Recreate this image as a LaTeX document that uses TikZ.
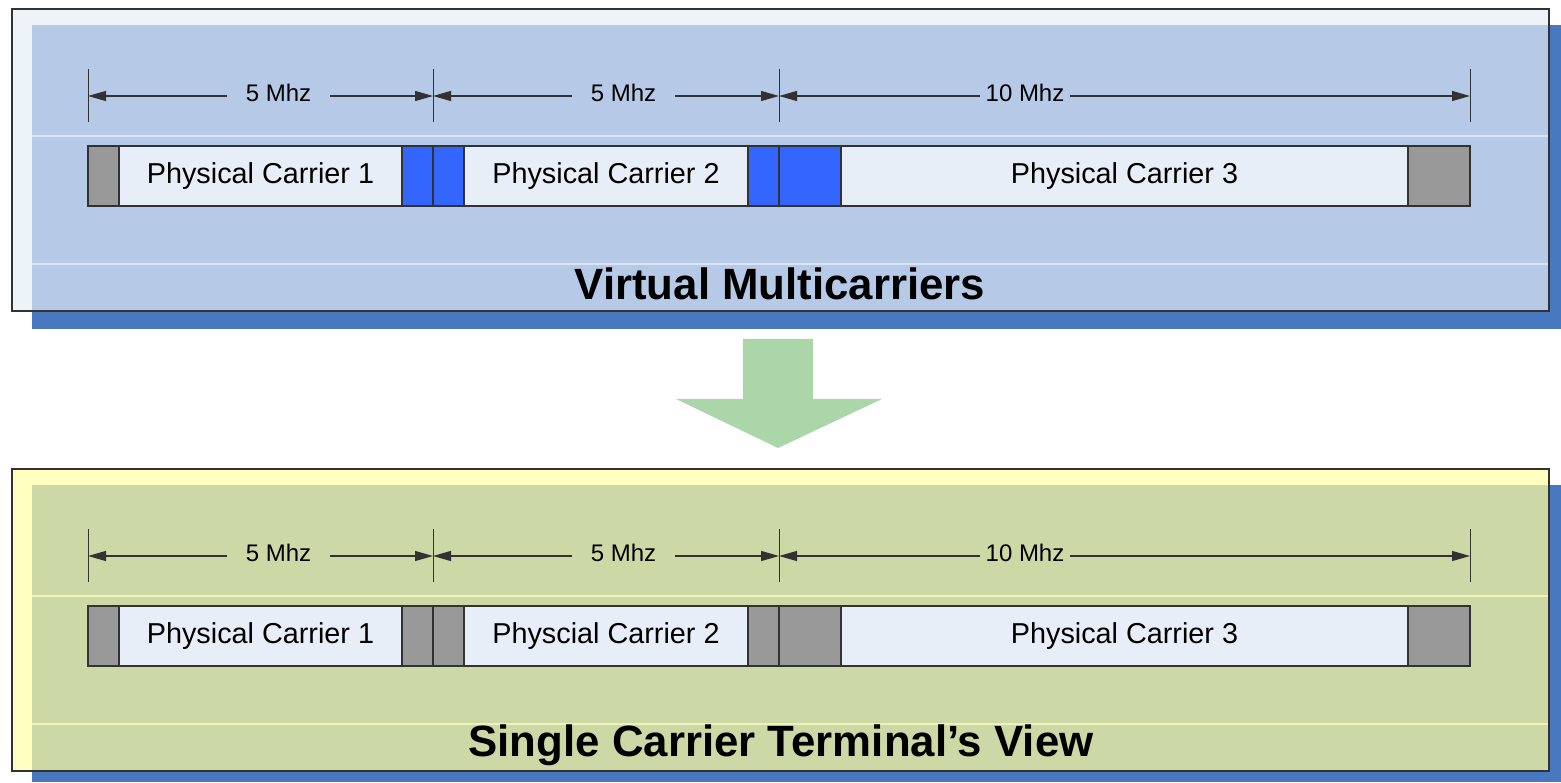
\documentclass[tikz,border=0pt]{standalone}
\usepackage{fontspec}
\setmainfont{Liberation Sans}
\usetikzlibrary{arrows.meta}

\begin{document}
\begin{tikzpicture}[x=1pt,y=1pt,
  seg/.style={draw=lineColor,line width=0.6pt,minimum height=30pt,inner sep=0pt,outer sep=0pt,anchor=west,font=\fontsize{14.4}{17}\selectfont},
  dimlabel/.style={inner sep=0pt,outer sep=0pt,minimum height=10pt,font=\fontsize{12}{14}\selectfont},
  dimtick/.style={draw=lineColor,line width=0.5pt},
  dimarrow/.style={draw=lineColor,line width=0.6pt,-{Triangle[length=9pt,width=5pt]}},
  paneltitle/.style={inner sep=0pt,outer sep=0pt,font=\bfseries\fontsize{21.9}{26}\selectfont}]
\definecolor{lineColor}{RGB}{50,50,50}
\definecolor{shadowColor}{RGB}{72,120,192}
\definecolor{topFrame}{RGB}{238,242,249}
\definecolor{topInner}{RGB}{182,202,231}
\definecolor{botFrame}{RGB}{255,255,192}
\definecolor{botInner}{RGB}{204,216,165}
\definecolor{carrierFill}{RGB}{232,238,248}
\definecolor{guardGray}{RGB}{153,153,153}
\definecolor{guardBlue}{RGB}{51,102,255}
\definecolor{arrowGreen}{RGB}{170,214,170}
\path[use as bounding box,fill=white] (0,0) rectangle (780.5,391);

% top panel
\path[fill=shadowColor] (16,378.5) rectangle (780.5,226.5);
\path[draw=lineColor,fill=topFrame,line width=0.6pt] (6,386.5) rectangle (774.5,235.5);
\path[fill=topInner] (16,378.5) rectangle (774.2,235.8);
\path[draw=white,opacity=0.5,line width=0.8pt] (16,323) -- (774.2,323);
\path[draw=white,opacity=0.5,line width=0.8pt] (16,259) -- (774.2,259);

\path[dimtick] (44,356.5) -- (44,330);
\path[dimtick] (216.5,356.5) -- (216.5,330);
\path[dimtick] (389.5,356.5) -- (389.5,330);
\path[dimtick] (735,356.5) -- (735,330);
\coordinate (ta) at (44,343);
\coordinate (tb) at (216.5,343);
\coordinate (tc) at (389.5,343);
\coordinate (td) at (735,343);
\node[dimlabel,minimum width=51.5pt] (tw1) at (139.25,344.5) {5 Mhz};
\node[dimlabel,minimum width=51.5pt] (tw2) at (311.75,344.5) {5 Mhz};
\node[dimlabel,minimum width=45pt] (tw3) at (512.5,344.5) {10 Mhz};
\draw[dimarrow] (tw1.west |- ta) -- (ta);
\draw[dimarrow] (tw1.east |- tb) -- (tb);
\draw[dimarrow] (tw2.west |- tb) -- (tb);
\draw[dimarrow] (tw2.east |- tc) -- (tc);
\draw[dimarrow] (tw3.west |- tc) -- (tc);
\draw[dimarrow] (tw3.east |- td) -- (td);

\node[seg,fill=guardGray,minimum width=15.5pt] (tg1) at (44,303) {};
\node[seg,fill=carrierFill,minimum width=141.5pt] (tc1) at (59.5,303) {Physical Carrier 1};
\node[seg,fill=guardBlue,minimum width=15.5pt] (tb1) at (201,303) {};
\node[seg,fill=guardBlue,minimum width=15.5pt] (tb2) at (216.5,303) {};
\node[seg,fill=carrierFill,minimum width=142pt] (tc2) at (232,303) {Physical Carrier 2};
\node[seg,fill=guardBlue,minimum width=15.5pt] (tb3) at (374,303) {};
\node[seg,fill=guardBlue,minimum width=31pt] (tb4) at (389.5,303) {};
\node[seg,fill=carrierFill,minimum width=283.5pt] (tc3) at (420.5,303) {Physical Carrier 3};
\node[seg,fill=guardGray,minimum width=31pt] (tg2) at (704,303) {};

\node[paneltitle] (toptitle) at (390,249) {Virtual Multicarriers};

% block arrow
\path[fill=arrowGreen] (371.5,221.5) -- (406.5,221.5) -- (406.5,191.5) -- (441,191.5) --
	(389,167) -- (338,191.5) -- (371.5,191.5) -- cycle;

% bottom panel
\path[fill=shadowColor] (16,148.5) rectangle (780.5,0);
\path[draw=lineColor,fill=botFrame,line width=0.6pt] (6,156.5) rectangle (774.5,5.5);
\path[fill=botInner] (16,148.5) rectangle (774.2,5.8);
\path[draw=botFrame,opacity=0.7,line width=0.8pt] (16,93) -- (774.2,93);
\path[draw=botFrame,opacity=0.7,line width=0.8pt] (16,29) -- (774.2,29);

\path[dimtick] (44,126.5) -- (44,100);
\path[dimtick] (216.5,126.5) -- (216.5,100);
\path[dimtick] (389.5,126.5) -- (389.5,100);
\path[dimtick] (735,126.5) -- (735,100);
\coordinate (ba) at (44,113);
\coordinate (bb) at (216.5,113);
\coordinate (bc) at (389.5,113);
\coordinate (bd) at (735,113);
\node[dimlabel,minimum width=51.5pt] (bw1) at (139.25,114.5) {5 Mhz};
\node[dimlabel,minimum width=51.5pt] (bw2) at (311.75,114.5) {5 Mhz};
\node[dimlabel,minimum width=45pt] (bw3) at (512.5,114.5) {10 Mhz};
\draw[dimarrow] (bw1.west |- ba) -- (ba);
\draw[dimarrow] (bw1.east |- bb) -- (bb);
\draw[dimarrow] (bw2.west |- bb) -- (bb);
\draw[dimarrow] (bw2.east |- bc) -- (bc);
\draw[dimarrow] (bw3.west |- bc) -- (bc);
\draw[dimarrow] (bw3.east |- bd) -- (bd);

\node[seg,fill=guardGray,minimum width=15.5pt] (bg1) at (44,73) {};
\node[seg,fill=carrierFill,minimum width=141.5pt] (bc1) at (59.5,73) {Physical Carrier 1};
\node[seg,fill=guardGray,minimum width=15.5pt] (bg2) at (201,73) {};
\node[seg,fill=guardGray,minimum width=15.5pt] (bg3) at (216.5,73) {};
\node[seg,fill=carrierFill,minimum width=142pt] (bc2) at (232,73) {Physcial Carrier 2};
\node[seg,fill=guardGray,minimum width=15.5pt] (bg4) at (374,73) {};
\node[seg,fill=guardGray,minimum width=31pt] (bg5) at (389.5,73) {};
\node[seg,fill=carrierFill,minimum width=283.5pt] (bc3) at (420.5,73) {Physical Carrier 3};
\node[seg,fill=guardGray,minimum width=31pt] (bg6) at (704,73) {};

\node[paneltitle] (bottitle) at (390.5,18.5) {Single Carrier Terminal’s View};
\end{tikzpicture}
\end{document}
